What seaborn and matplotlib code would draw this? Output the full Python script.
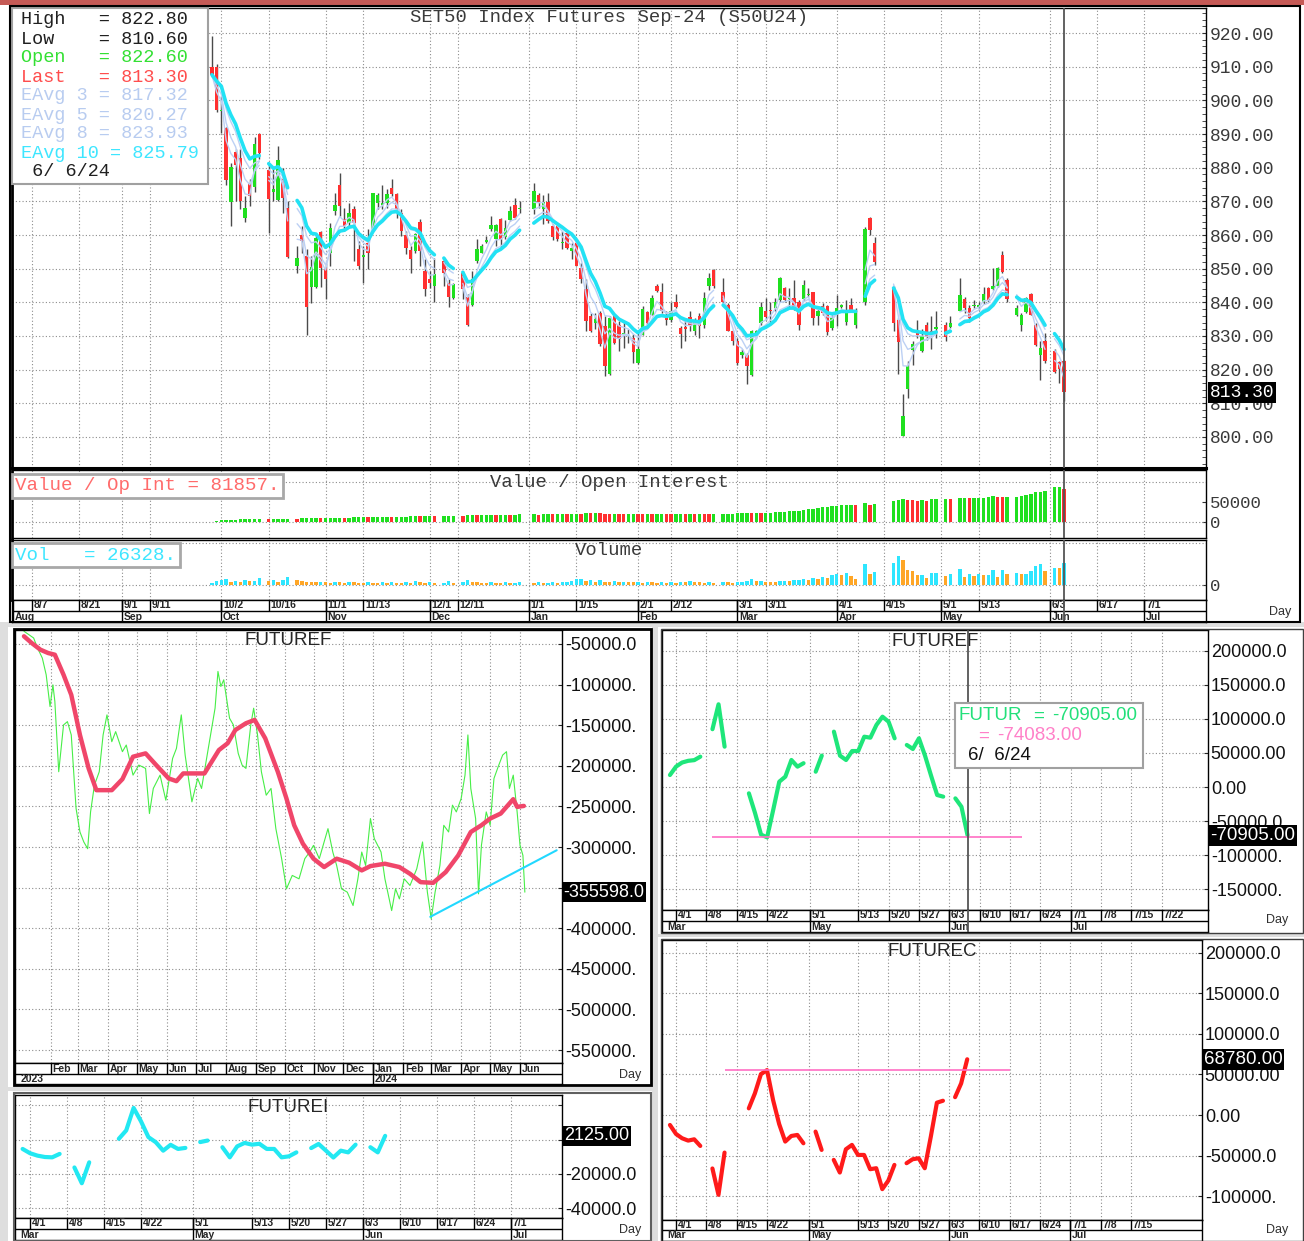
import numpy as np
import pandas as pd
import seaborn as sns
import matplotlib.pyplot as plt
import matplotlib.transforms as mtransforms
from matplotlib.patches import Rectangle
from matplotlib.ticker import MultipleLocator

# ---------------- data ----------------
holidays = ['2023-10-13', '2023-10-23', '2023-12-05', '2023-12-11', '2023-12-29',
            '2024-01-01', '2024-02-26', '2024-04-08', '2024-04-12', '2024-04-15',
            '2024-04-16', '2024-05-01', '2024-05-06', '2024-05-22', '2024-06-03']

opens = [910.0, 910.0, 896.8, 891.8, 869.8, 884.8, 883.0, 865.1, 875.5, 874.4,
         889.9, 879.2, 872.8, 870.4, 876.7, 867.9, 850.8, 859.9, 853.8, 844.7,
         844.7, 860.9, 850.3, 854.8, 867.1, 875.0, 864.9, 863.7, 867.8, 855.9,
         853.6, 857.7, 861.7, 869.6, 869.0, 869.6, 874.1, 872.1, 866.6, 859.9,
         855.4, 855.2, 863.9, 849.3, 846.8, 844.9, 852.3, 845.8, 841.4, 848.8,
         841.7, 839.1, 852.3, 854.8, 857.9, 861.7, 858.7, 864.9, 859.5, 864.5,
         868.9, 867.6, 867.6, 871.8, 867.6, 869.8, 862.7, 862.7, 857.7, 860.7,
         855.2, 857.7, 850.3, 844.1, 835.9, 834.0, 836.9, 833.0, 818.6, 835.9,
         833.2, 830.5, 830.0, 829.4, 822.0, 830.4, 837.0, 836.3, 844.9, 843.0,
         836.3, 834.8, 840.2, 832.4, 832.6, 835.5, 831.4, 835.8, 833.2, 845.0,
         849.6, 843.0, 839.1, 831.6, 828.6, 824.3, 824.5, 818.4, 830.2, 833.8,
         837.3, 837.8, 838.3, 840.7, 844.2, 841.0, 841.2, 840.0, 841.0, 842.2,
         843.0, 835.8, 838.8, 838.8, 832.4, 837.1, 838.7, 834.3, 839.3, 833.4,
         840.2, 865.1, 857.5, 844.4, 834.8, 800.3, 814.4, 825.7, 831.6, 825.5,
         833.3, 831.6, 832.2, 833.3, 832.6, 837.3, 841.0, 838.3, 838.8, 838.7,
         840.0, 844.2, 844.0, 845.0, 854.2, 846.7, 836.1, 833.2, 837.1, 842.4,
         833.3, 824.5, 828.4, 825.5, 822.3, 822.6]
highs = [919.2, 910.8, 901.3, 892.0, 881.5, 885.4, 885.4, 871.6, 876.7, 889.2,
         890.4, 881.0, 879.5, 886.4, 880.0, 870.1, 856.7, 862.7, 855.7, 853.8,
         859.7, 861.2, 851.8, 863.7, 872.4, 878.3, 868.1, 869.6, 868.6, 858.2,
         856.7, 861.7, 872.6, 872.6, 875.0, 873.6, 876.7, 872.6, 867.6, 861.2,
         856.7, 860.7, 864.7, 852.8, 849.3, 853.3, 853.3, 846.8, 845.8, 849.3,
         842.4, 849.3, 858.7, 857.4, 859.7, 865.6, 863.2, 865.1, 864.5, 868.6,
         871.1, 870.1, 875.5, 872.6, 871.8, 872.6, 863.2, 863.7, 861.2, 861.2,
         857.7, 858.7, 851.8, 846.8, 836.9, 836.9, 837.4, 835.9, 835.9, 836.4,
         834.5, 834.2, 832.0, 830.5, 830.9, 838.8, 837.5, 842.2, 845.4, 845.7,
         837.3, 840.0, 842.4, 832.9, 834.8, 837.5, 835.3, 836.8, 843.2, 848.6,
         849.9, 847.1, 839.8, 831.9, 829.4, 826.0, 825.0, 831.9, 831.9, 840.2,
         841.4, 840.2, 841.4, 847.4, 844.7, 844.2, 846.6, 840.7, 846.6, 844.2,
         843.2, 838.8, 839.8, 839.3, 836.3, 842.2, 839.5, 840.7, 841.4, 838.3,
         862.4, 865.4, 859.5, 845.0, 835.3, 812.7, 822.5, 828.4, 834.8, 832.2,
         834.3, 835.8, 837.5, 834.3, 835.8, 847.1, 841.7, 839.3, 840.7, 840.2,
         844.7, 844.7, 850.1, 850.6, 855.2, 847.1, 839.3, 836.8, 841.7, 842.7,
         833.8, 828.4, 830.9, 826.0, 822.7, 822.8]
lows = [907.0, 896.5, 890.4, 874.9, 862.7, 870.1, 867.8, 863.9, 868.6, 872.8,
        882.5, 860.7, 870.1, 870.1, 866.6, 853.3, 848.6, 854.8, 830.2, 839.9,
        844.4, 844.7, 840.9, 850.8, 865.8, 865.6, 861.2, 862.7, 852.3, 849.8,
        845.8, 849.8, 861.2, 867.6, 867.6, 868.1, 871.6, 865.1, 859.7, 854.3,
        848.8, 854.8, 850.8, 841.9, 844.4, 840.1, 844.9, 838.7, 841.1, 840.9,
        833.0, 838.9, 851.8, 854.6, 857.7, 861.2, 856.7, 856.2, 858.9, 864.2,
        864.7, 866.6, 866.1, 868.1, 863.2, 863.7, 858.5, 858.2, 855.9, 855.7,
        852.8, 850.8, 845.8, 831.5, 831.3, 832.0, 827.0, 818.1, 818.3, 827.5,
        825.5, 826.5, 828.0, 822.1, 821.8, 830.2, 833.4, 836.1, 843.0, 836.8,
        833.3, 834.3, 838.3, 826.5, 828.4, 831.4, 830.4, 829.4, 832.4, 843.7,
        844.4, 839.8, 831.4, 827.4, 821.5, 823.5, 815.6, 818.1, 829.4, 833.3,
        834.8, 833.8, 837.3, 840.2, 840.2, 838.3, 837.8, 831.9, 840.7, 841.7,
        833.3, 833.3, 836.3, 830.4, 831.9, 832.9, 838.3, 833.3, 837.3, 832.4,
        839.3, 860.0, 851.1, 831.4, 818.8, 800.3, 811.7, 821.5, 829.4, 825.3,
        828.9, 826.0, 829.4, 828.4, 832.4, 837.3, 836.8, 834.3, 838.3, 837.8,
        839.5, 840.0, 843.7, 844.7, 848.6, 840.2, 835.8, 831.4, 836.8, 836.1,
        826.9, 816.8, 822.0, 819.1, 816.1, 810.6]
closes = [907.6, 897.2, 897.2, 876.4, 880.3, 880.7, 870.1, 868.1, 871.6, 886.9,
          884.3, 870.6, 873.6, 882.3, 871.1, 853.5, 853.3, 858.2, 838.6, 850.6,
          859.2, 850.3, 846.8, 862.2, 868.9, 868.6, 862.7, 866.4, 863.7, 850.8,
          854.0, 854.8, 872.4, 871.9, 869.4, 872.3, 872.1, 867.6, 861.2, 856.2,
          853.0, 860.2, 855.2, 843.9, 845.8, 848.3, 848.8, 841.7, 845.5, 843.9,
          833.2, 847.0, 855.7, 856.7, 858.4, 862.9, 862.9, 858.9, 862.2, 867.2,
          865.1, 868.1, 873.1, 869.4, 869.8, 864.2, 859.5, 858.9, 858.0, 856.2,
          856.2, 850.8, 846.8, 834.5, 831.5, 835.0, 827.5, 821.1, 835.4, 828.0,
          829.0, 831.0, 830.4, 825.3, 826.0, 838.0, 833.8, 841.2, 843.4, 837.3,
          834.8, 837.5, 838.5, 830.6, 832.2, 832.9, 834.1, 832.9, 841.4, 847.1,
          845.0, 840.2, 831.6, 828.4, 822.0, 825.3, 821.0, 831.4, 831.4, 838.6,
          835.5, 837.3, 840.0, 847.1, 840.7, 841.4, 838.3, 833.2, 845.2, 842.4,
          835.3, 837.3, 836.8, 831.2, 835.3, 838.3, 839.1, 837.1, 837.8, 837.1,
          861.9, 861.4, 852.1, 833.8, 828.2, 806.3, 821.0, 827.6, 830.2, 829.9,
          829.6, 830.9, 832.8, 829.6, 833.8, 842.2, 838.3, 835.3, 839.3, 839.1,
          842.4, 840.7, 845.0, 850.1, 848.9, 841.0, 838.3, 836.3, 841.4, 836.3,
          827.4, 826.3, 822.5, 819.4, 820.3, 813.3]

open_int = [1500, 3000,
            4500, 5000, 6000, 6500, 7000, 7000, 7500, 7500, 8000, 7500,
            8500, 9000, 9000, 9000, 8500, 9500, 10000, 10000, 10500, 10000,
            10500, 11000, 11000, 11500, 11000, 11500, 12000, 12000, 12500, 12000, 12500,
            13000, 13000, 13500, 13000, 13500, 14000, 14000, 14500, 15000, 14500, 15000,
            15500, 15000, 15500, 16000, 16500, 16000, 17000, 17500, 17000,
            18000, 18000, 18500, 18000, 19000, 19000, 18500, 19000, 19500,
            19500, 19000, 19500, 20000, 19500, 20000, 20500, 20000, 21000, 21500, 21000,
            22500, 22000, 22500, 22000, 21500, 21000, 21500, 21000, 20500, 21000, 21500,
            21000, 20500, 21000, 20000, 20500, 21000, 20500, 20000, 20500, 21000,
            20000, 20500, 20000, 21000, 20500, 20000, 20500, 21000, 21000, 21500,
            22000, 23000, 23500, 23000, 23500, 23000, 23500, 24000, 24500, 25500, 26500,
            27500, 28000, 29000, 30500, 32000, 34000, 35500, 37000, 38500, 40000,
            41500, 43000, 43500, 43500, 42500, 49000, 44000, 46000, 52000,
            56500, 58000, 56000, 55000, 54000, 54500, 54000, 58000, 58000,
            59000, 57500, 61000, 61500, 60000, 60000, 60500, 61000, 63000, 65000,
            63000, 62000, 64000, 64000, 65500, 67000, 70500, 74000, 76000, 77000,
            86500, 88500, 81857]

volume = [2000, 4500,
          5500, 6500, 4000, 5000, 3500, 6000, 4500, 5000, 8000, 4500,
          5500, 4000, 6000, 9000, 5500, 4500, 4000, 3500, 3000, 4000,
          3000, 2500, 3500, 3000, 2500, 4000, 3000, 2500, 2000, 3000, 2500,
          2000, 3500, 2500, 3000, 2500, 2000, 3000, 2500, 4500, 3000, 2500,
          3000, 2000, 2500, 4500, 2500, 3000, 6000, 3500, 3000,
          2500, 2000, 3000, 2500, 2000, 3000, 2000, 2500, 3000,
          2500, 3000, 2000, 2500, 3000, 2500, 3500, 4000, 5000, 6500, 7500,
          5000, 6000, 4000, 5500, 4000, 3500, 4500, 3000, 4000, 3500, 3000,
          3000, 2500, 3500, 3000, 2500, 3000, 2500, 3000, 2500, 3500,
          3000, 4500, 3500, 3000, 2500, 3000, 2500, 3500, 3000, 2500,
          3000, 4000, 4500, 6500, 4500, 5000, 4000, 3500, 3000, 4500, 5000,
          4500, 5500, 6000, 7000, 6000, 8000, 7000, 9500, 8500, 11500,
          12500, 11500, 14000, 10500, 7500, 25000, 13500, 15500, 26000,
          34000, 30000, 17500, 16500, 12000, 12000, 8000, 14000, 14500,
          11000, 12500, 19000, 9500, 12500, 11000, 12500, 11500, 11500, 18000,
          9500, 17500, 12500, 14500, 13000, 13000, 16000, 22000, 25000, 16000,
          20500, 19500, 26328]

# FUTUREF history, x = days since 2023-01-01
ff_day = [3, 13, 17, 22, 26, 30, 33, 35, 39, 44, 48, 52, 57, 61, 65, 69, 72, 76, 81, 85,
          89, 94, 98, 105, 109, 116, 122, 129, 133, 137, 144, 150, 157, 161, 166, 170,
          177, 183, 187, 194, 201, 204, 207, 210, 216, 220, 225, 229, 233, 238, 241, 245,
          249, 254, 259, 264, 270, 275, 281, 288, 294, 299, 303, 309, 314, 318, 323, 327,
          332, 338, 344, 349, 353, 357, 362, 366, 373, 377, 384, 388, 392, 397, 403, 410,
          416, 421, 425, 429, 434, 438, 443, 447, 451, 456, 460, 463, 466, 471, 474, 477,
          482, 486, 490, 495, 499, 503, 506, 510, 514, 517, 520, 522]
ff_val = [-34300, -42600, -54900, -67300, -87900, -127000, -100300, -120800, -207300, -149700,
          -145600, -162000, -252700, -281500, -293800, -302100, -256800, -223800, -207300, -162000,
          -137300, -170300, -157900, -182600, -174400, -211500, -199100, -203200, -258800, -227900,
          -211500, -242400, -190900, -178500, -137300, -186800, -244400, -215600, -227900, -178500,
          -129100, -83800, -102300, -94100, -141400, -149700, -184700, -199100, -203200, -149700,
          -129100, -162000, -207300, -236200, -227900, -277400, -314400, -351500, -335000, -339200,
          -314400, -306200, -298000, -314400, -293800, -277400, -306200, -322700, -351500, -355600,
          -372100, -339200, -306200, -322700, -265000, -289700, -306200, -339200, -378300, -351500,
          -363900, -339200, -347400, -326800, -293800, -355600, -388600, -355600, -322700, -273300,
          -281500, -248500, -256800, -240300, -211500, -162000, -227900, -265000, -357700, -298000,
          -256800, -273300, -215600, -199100, -186800, -182600, -227900, -211500, -256800, -298000,
          -310300, -355598]
ffa_day = [3, 11, 20, 28, 35, 44, 52, 61, 70, 78, 94, 105, 116, 129, 140, 153, 161, 168, 190, 205,
           214, 222, 233, 242, 253, 266, 275, 283, 292, 303, 314, 327, 340, 353, 362, 377, 392, 403,
           414, 427, 440, 453, 466, 477, 486, 497, 506, 510, 514, 521]
ffa_val = [-40500, -48800, -57000, -61100, -63200, -87900, -112600, -162000, -203200, -230000,
           -230000, -216400, -188800, -184700, -199100, -215600, -218900, -209400, -209400, -180600,
           -172300, -155900, -147600, -143500, -166200, -207300, -240300, -273200, -295900, -314400,
           -324700, -314400, -319400, -328800, -323500, -320600, -324700, -333000, -343300, -344100,
           -330900, -310300, -281500, -273200, -265000, -258800, -246500, -241100, -250600, -249400]
ff_trend_day = [424, 555]
ff_trend_val = [-386000, -304000]

# short windows: one value per trading day from 2024-03-29 to 2024-06-06
futuref = [17600, 30000, 36000, 38500, 39500, 44600,
           85000, 121600, 59300,
           -9300, -38000, -70000, -74083, -33800, 7800, 15200, 39700, 29900, 35000,
           22500, 46100,
           81400, 46100, 39700, 52900, 52900, 74000, 72500, 91200, 103400, 96000, 71600,
           61800, 55900, 71600, 46100, 16600, -11800, -14200,
           -16700, -29000, -70905]
futurec = [-12300, -23400, -28700, -31600, -30000, -38200,
           -66000, -98500, -46400,
           8200, 26700, 50500, 55400, 18500, -11100, -32800, -25900, -24600, -34900,
           -20500, -43100,
           -55400, -71000, -42300, -36900, -49300, -49300, -66900, -65700, -91500, -80900, -61600,
           -59500, -54600, -53400, -65700, -26700, 15200, 17600,
           22000, 39000, 68780]
futurei = [-5500, -8000, -9400, -10200, -10400, -8400,
           -16300, -25500, -13300,
           400, 5300, 18400, 10600, 1400, -1600, -6500, -3100, -5500, -4900,
           -1500, -600,
           -4500, -10400, -4000, -2000, -3000, -2500, -5500, -5500, -10400, -9800, -7500,
           -5000, -2600, -6500, -10500, -6500, -7500, -3000,
           -4500, -7500, 2125]
futuref_floor = -74083
futurec_ceiling = 55400

# ---------------- style ----------------
sns.set_style('white')
plt.rcParams['font.family'] = ['Liberation Sans', 'DejaVu Sans']
MONO = 'Liberation Mono'
INK = '#3a3a3a'
GREEN, RED = '#1fe01f', '#ff3030'
GRID = dict(color='#8c8c8c', linewidth=0.8, linestyle=(0, (1, 2)))

W, H = 1304, 1241
fig = plt.figure(figsize=(W / 100, H / 100), dpi=100, facecolor='#dedede')


def axes_px(x0, y0, x1, y1):
    ax = fig.add_axes([x0 / W, 1 - y1 / H, (x1 - x0) / W, (y1 - y0) / H])
    ax.set_facecolor('white')
    for s in ax.spines.values():
        s.set_color('black')
        s.set_linewidth(1)
    return ax


def rect_px(x0, y0, x1, y1, z=-5, **kw):
    fig.patches.append(Rectangle((x0 / W, 1 - y1 / H), (x1 - x0) / W, (y1 - y0) / H,
                                 transform=fig.transFigure, zorder=z, **kw))


def text_px(x, y, s, **kw):
    kw.setdefault('va', 'center')
    fig.text(x / W, 1 - y / H, s, zorder=9, **kw)


def value_box(ax, y, s, size=13, family=None):
    tr = mtransforms.blended_transform_factory(ax.transAxes, ax.transData)
    ax.text(1.003, y, s, transform=tr, ha='left', va='center', color='white',
            fontsize=size, family=family, zorder=10, clip_on=False,
            bbox=dict(boxstyle='square,pad=0.1', fc='black', ec='none'))


def date_axis(box, xlim, ticks, labels, seps, sep_labels, height, split, extra=None):
    ax = axes_px(*box)
    ax.set_xlim(xlim)
    ax.set_ylim(height, 0)
    ax.set_xticks([])
    ax.set_yticks([])
    ax.axhline(split, color='black', lw=1)
    ax.vlines(ticks, 0, split, color='black', lw=1)
    for x, s in zip(ticks, labels):
        ax.annotate(s, (x, split / 2), xytext=(1.2, 0), textcoords='offset points',
                    ha='left', va='center', fontsize=7.5, fontweight='bold')
    ax.vlines(seps, 0, height, color='black', lw=1)
    for x, s in zip(seps, sep_labels):
        ax.annotate(s, (x, (split + height) / 2), xytext=(1.2, 0), textcoords='offset points',
                    ha='left', va='center', fontsize=7.5, fontweight='bold')
    if extra:
        ax.annotate(extra, (xlim[0], (split + height) / 2), xytext=(4, 0),
                    textcoords='offset points', ha='left', va='center',
                    fontsize=7.5, fontweight='bold')
    return ax


def md(ts):
    return [f'{t.month}/{t.day}' for t in pd.to_datetime(ts)]


# ---------------- trading calendar ----------------
trade_days = pd.bdate_range('2023-09-28', '2024-06-06')
trade_days = trade_days[~trade_days.isin(pd.to_datetime(holidays))]
d64 = trade_days.values.astype('datetime64[D]')
k_main = np.busday_count(np.datetime64('2023-08-07'), d64)
seg_main = np.concatenate([[0], np.cumsum(np.diff(k_main) > 1)])


def kmain(ds):
    return np.busday_count(np.datetime64('2023-08-07'), pd.to_datetime(ds).values.astype('datetime64[D]'))


short_days = trade_days[trade_days >= '2024-03-29']
k_short = np.busday_count(np.datetime64('2024-04-01'), short_days.values.astype('datetime64[D]'))
seg_short = np.concatenate([[0], np.cumsum(np.diff(k_short) > 1)])


def kshort(ds):
    return np.busday_count(np.datetime64('2024-04-01'), pd.to_datetime(ds).values.astype('datetime64[D]'))


def dnum(ds):
    return [(pd.Timestamp(d) - pd.Timestamp('2023-01-01')).days for d in ds]


# ---------------- window backgrounds ----------------
rect_px(0, 0, 1304, 5, fc='#c55a56', ec='none')
rect_px(0, 5, 1304, 622, fc='white', ec='none')
rect_px(8, 627, 652, 1087, fc='white', ec='none')
rect_px(8, 1091, 652, 1241, fc='white', ec='none')
rect_px(658, 627, 1304, 934, fc='white', ec='none')
rect_px(658, 937, 1304, 1241, fc='white', ec='none')

# ---------------- main candlestick panel ----------------
XL = (-4.23, 248.0)
o, h, l, c = map(np.array, (opens, highs, lows, closes))
price = pd.DataFrame({'k': k_main, 'seg': seg_main, 'close': c})
for n in (3, 5, 8, 10):
    price[f'ema{n}'] = price['close'].ewm(span=n, adjust=False).mean()

ax = axes_px(12, 8, 1206, 468)
ax.set_xlim(XL)
ax.set_ylim(790.79, 927.43)
ax.vlines(k_main, l, h, color='#4a4a4a', lw=1, zorder=2)
ax.bar(k_main, np.maximum(np.abs(c - o), 0.35), bottom=np.minimum(o, c), width=0.72,
       color=np.where(c >= o, GREEN, RED), lw=0, zorder=3)
for n in (3, 5, 8):
    sns.lineplot(data=price, x='k', y=f'ema{n}', units='seg', estimator=None,
                 color='#bcd0f4', lw=1, ax=ax, legend=False, zorder=4)
sns.lineplot(data=price, x='k', y='ema10', units='seg', estimator=None,
             color='#22e2f4', lw=2.6, ax=ax, legend=False, zorder=5)
ax.set_xlabel('')
ax.set_ylabel('')

day_ticks = ['2023-08-07', '2023-08-21', '2023-09-01', '2023-09-11', '2023-10-02', '2023-10-16',
             '2023-11-01', '2023-11-13', '2023-12-01', '2023-12-11', '2024-01-01', '2024-01-15',
             '2024-02-01', '2024-02-12', '2024-03-01', '2024-03-11', '2024-04-01', '2024-04-15',
             '2024-05-01', '2024-05-13', '2024-06-03', '2024-06-17', '2024-07-01']
month_starts = ['2023-08-01', '2023-09-01', '2023-10-02', '2023-11-01', '2023-12-01', '2024-01-01',
                '2024-02-01', '2024-03-01', '2024-04-01', '2024-05-01', '2024-06-03', '2024-07-01']
month_names = ['Aug', 'Sep', 'Oct', 'Nov', 'Dec', 'Jan', 'Feb', 'Mar', 'Apr', 'May', 'Jun', 'Jul']


def style_top(a, yt, ylab, size=13):
    a.set_xticks(kmain(day_ticks))
    a.tick_params(axis='x', length=0, labelbottom=False)
    a.grid(True, axis='x', **GRID)
    a.yaxis.tick_right()
    a.set_yticks(yt)
    a.set_yticklabels(ylab, family=MONO, fontsize=size, color=INK)
    a.tick_params(axis='y', which='both', direction='in', length=3, pad=3, color='#333333')


style_top(ax, np.arange(800, 921, 10), [f'{v:.2f}' for v in range(800, 921, 10)])
ax.yaxis.set_minor_locator(MultipleLocator(2))
ax.grid(True, axis='y', **GRID)
ax.spines['left'].set_linewidth(2)
ax.spines['bottom'].set_linewidth(2.2)
ax.axvline(k_main[-1], color='#555555', lw=1.3, zorder=6)
ax.text(0.5, 0.98, 'SET50 Index Futures Sep-24 (S50U24)', transform=ax.transAxes,
        ha='center', va='center', family=MONO, fontsize=13.6, color=INK)
value_box(ax, c[-1], f'{c[-1]:.2f}', size=13, family=MONO)

# info box
rect_px(12, 8, 208, 184, z=7, fc='white', ec='#a0a0a0', lw=1.5)
info = [('High   = 822.80', '#202020'), ('Low    = 810.60', '#202020'),
        ('Open   = 822.60', '#33e033'), ('Last   = 813.30', '#ff4d4d'),
        ('EAvg 3 = 817.32', '#b8ccf0'), ('EAvg 5 = 820.27', '#b8ccf0'),
        ('EAvg 8 = 823.93', '#b8ccf0'), ('EAvg 10 = 825.79', '#3ee6ff'),
        (' 6/ 6/24', '#202020')]
for i, (s, col) in enumerate(info):
    text_px(21, 20 + 19 * i, s, family=MONO, fontsize=13.3, color=col)

# ---------------- value / open interest ----------------
oi = np.array(open_int)
ax2 = axes_px(12, 470, 1206, 538)
ax2.set_xlim(XL)
ax2.set_ylim(-39250, 130000)
ax2.bar(k_main, oi, width=0.72, lw=0, zorder=3,
        color=np.where(np.diff(oi, prepend=0) >= 0, GREEN, RED))
style_top(ax2, [0, 50000], ['0', '50000'], size=12.5)
ax2.axhline(0, zorder=1, **GRID)
ax2.axhline(100000, zorder=1, **GRID)
ax2.axvline(k_main[-1], color='#555555', lw=1.3, zorder=6)
ax2.spines['left'].set_linewidth(2)
ax2.text(0.5, 0.82, 'Value / Open Interest', transform=ax2.transAxes, ha='center',
         va='center', family=MONO, fontsize=13.6, color=INK)
rect_px(12, 474, 283, 498, z=7, fc='white', ec='#a8a8a8', lw=2)
text_px(15, 486, 'Value / Op Int = 81857.', family=MONO, fontsize=13.8, color='#ff6b6b')

# ---------------- volume ----------------
vol = np.array(volume)
ax3 = axes_px(12, 540, 1206, 600)
ax3.set_xlim(XL)
ax3.set_ylim(-17700, 53070)
ax3.bar(k_main, vol, width=0.72, lw=0, zorder=3,
        color=np.where(np.diff(vol, prepend=0) >= 0, '#2ee6ff', '#ffa626'))
style_top(ax3, [0], ['0'], size=12.5)
ax3.axhline(0, zorder=1, **GRID)
ax3.axhline(50000, zorder=1, **GRID)
ax3.axvline(k_main[-1], color='#555555', lw=1.3, zorder=6)
ax3.spines['left'].set_linewidth(2)
ax3.text(0.5, 0.82, 'Volume', transform=ax3.transAxes, ha='center', va='center',
         family=MONO, fontsize=13.6, color=INK)
rect_px(12, 543, 180, 567, z=7, fc='white', ec='#a8a8a8', lw=2)
text_px(15, 555, 'Vol   = 26328.', family=MONO, fontsize=13.8, color='#3ee6ff')

axd = date_axis((12, 600, 1206, 622), XL, kmain(day_ticks), md(day_ticks),
                kmain(month_starts), month_names, 22, 11)
axd.axvline(k_main[-1], color='#555555', lw=1.3, zorder=6)
text_px(1280, 612, 'Day', fontsize=9, color='#303030', ha='center')
rect_px(10, 6, 1300, 622, z=8, fc='none', ec='black', lw=1.5)


def short_style(a, xl, ticks, yt, ylab, ylim):
    a.set_xlim(xl)
    a.set_ylim(ylim)
    a.set_xlabel('')
    a.set_ylabel('')
    a.set_xticks(kshort(ticks))
    a.tick_params(axis='x', length=0, labelbottom=False)
    a.yaxis.tick_right()
    a.set_yticks(yt)
    a.set_yticklabels(ylab, fontsize=13, color='#111111')
    a.tick_params(axis='y', direction='in', length=3, pad=2)
    a.grid(True, **GRID)


# ---------------- FUTUREF (long history) ----------------
axf = axes_px(15, 630, 562, 1063)
sns.lineplot(x=ff_day, y=ff_val, color='#47ee47', lw=0.8, ax=axf)
sns.lineplot(x=ffa_day, y=ffa_val, color='#f0466a', lw=3.2, ax=axf)
sns.lineplot(x=ff_trend_day, y=ff_trend_val, color='#22d8ff', lw=1.5, ax=axf)
XLF = (-6.3, 560.5)
axf.set_xlim(XLF)
axf.set_ylim(-566000, -32760)
lf_months = pd.date_range('2023-02-01', '2024-06-01', freq='MS')
axf.set_xticks(dnum(lf_months))
axf.tick_params(axis='x', length=0, labelbottom=False)
axf.yaxis.tick_right()
yv = list(range(-50000, -550001, -50000))
axf.set_yticks(yv)
# the -350000 label sits under the last-value box in the original, so it stays blank
axf.set_yticklabels(['-50000.0'] + ['' if v == -350000 else f'{v}.' for v in yv[1:]],
                    fontsize=13, color='#111111')
axf.tick_params(axis='y', direction='in', length=3, pad=2)
axf.grid(True, **GRID)
axf.text(0.5, 0.975, 'FUTUREF', transform=axf.transAxes, ha='center', va='center', fontsize=13.5)
value_box(axf, ff_val[-1], f'{ff_val[-1]:.1f}', size=13)
date_axis((15, 1063, 562, 1084), XLF, dnum(lf_months), [d.strftime('%b') for d in lf_months],
          dnum(['2024-01-01']), ['2024'], 21, 11, extra='2023')
text_px(630, 1075, 'Day', fontsize=9, color='#303030', ha='center')
rect_px(14, 629, 651, 1085, z=8, fc='none', ec='black', lw=2)

# ---------------- short windows ----------------
short = pd.DataFrame({'k': k_short, 'seg': seg_short, 'ff': futuref, 'fc': futurec, 'fi': futurei})
r_ticks = ['2024-04-01', '2024-04-08', '2024-04-15', '2024-04-22', '2024-05-01', '2024-05-13',
           '2024-05-20', '2024-05-27', '2024-06-03', '2024-06-10', '2024-06-17', '2024-06-24',
           '2024-07-01', '2024-07-08', '2024-07-15', '2024-07-22']
r_months = ['2024-05-01', '2024-06-03', '2024-07-01']

# FUTUREI
axi = axes_px(15, 1095, 562, 1218)
sns.lineplot(data=short, x='k', y='fi', units='seg', estimator=None, color='#22e8f2', lw=3, ax=axi)
XLI = (-2.03, 71.9)
short_style(axi, XLI, r_ticks[:13], [20000, 0, -20000, -40000], ['', '0.00', '-20000.0', '-40000.0'],
            (-45770, 25950))
axi.text(0.5, 0.9, 'FUTUREI', transform=axi.transAxes, ha='center', va='center', fontsize=13.5)
value_box(axi, futurei[-1], f'{futurei[-1]:.2f}', size=13)
date_axis((15, 1218, 562, 1240), XLI, kshort(r_ticks[:13]), md(r_ticks[:13]),
          kshort(r_months), ['May', 'Jun', 'Jul'], 22, 11, extra='Mar')
text_px(630, 1230, 'Day', fontsize=9, color='#303030', ha='center')
rect_px(14, 1093, 651, 1241, z=8, fc='none', ec='#606060', lw=1.5)

# FUTUREF (recent)
axr = axes_px(662, 630, 1208, 910)
sns.lineplot(data=short, x='k', y='ff', units='seg', estimator=None, color='#1ee67a', lw=3, ax=axr)
axr.hlines(futuref_floor, kshort(['2024-04-09'])[0], kshort(['2024-06-19'])[0], color='#ff6ec4', lw=1.2)
XLR = (-2.31, 87.6)
short_style(axr, XLR, r_ticks, [200000, 150000, 100000, 50000, 0, -50000, -100000, -150000],
            ['200000.0', '150000.0', '100000.0', '50000.00', '0.00', '-50000.0', '-100000.', '-150000.'],
            (-180880, 230880))
axr.axvline(k_short[-1], color='#555555', lw=1.3, zorder=6)
axr.text(0.5, 0.96, 'FUTUREF', transform=axr.transAxes, ha='center', va='center', fontsize=13.5)
value_box(axr, futuref[-1], f'{futuref[-1]:.2f}', size=13.5)
axrd = date_axis((662, 910, 1208, 932), XLR, kshort(r_ticks), md(r_ticks),
                 kshort(r_months), ['May', 'Jun', 'Jul'], 22, 11, extra='Mar')
axrd.axvline(k_short[-1], color='#555555', lw=1.3, zorder=6)
text_px(1277, 920, 'Day', fontsize=9, color='#303030', ha='center')
rect_px(955, 703, 1143, 768, z=7, fc='white', ec='#a0a0a0', lw=1.5)
text_px(958, 716, 'FUTUR', fontsize=13.5, color='#22e07a')
text_px(1033, 716, '=', fontsize=13.5, color='#22e07a')
text_px(1052, 716, f'{futuref[-1]:.2f}', fontsize=13.5, color='#22e07a')
text_px(978, 736, '=', fontsize=13.5, color='#ff80c8')
text_px(997, 736, f'{futuref_floor:.2f}', fontsize=13.5, color='#ff80c8')
text_px(968, 756, '6/  6/24', fontsize=13.5, color='#111111')
rect_px(661, 629, 1303, 933, z=8, fc='none', ec='#404040', lw=1)

# FUTUREC
axc = axes_px(662, 940, 1202, 1220)
sns.lineplot(data=short, x='k', y='fc', units='seg', estimator=None, color='#ff1a1a', lw=3, ax=axc)
axc.hlines(futurec_ceiling, kshort(['2024-04-11'])[0], kshort(['2024-06-17'])[0], color='#ff6ec4', lw=1.2)
XLC = (-2.31, 86.7)
short_style(axc, XLC, r_ticks[:15], [200000, 150000, 100000, 50000, 0, -50000, -100000],
            ['200000.0', '150000.0', '100000.0', '50000.00', '0.00', '-50000.0', '-100000.'],
            (-129600, 216000))
axc.text(0.5, 0.96, 'FUTUREC', transform=axc.transAxes, ha='center', va='center', fontsize=13.5)
value_box(axc, futurec[-1], f'{futurec[-1]:.2f}', size=13.5)
date_axis((662, 1220, 1202, 1241), XLC, kshort(r_ticks[:15]), md(r_ticks[:15]),
          kshort(r_months), ['May', 'Jun', 'Jul'], 21, 10, extra='Mar')
text_px(1277, 1230, 'Day', fontsize=9, color='#303030', ha='center')
rect_px(661, 939, 1303, 1241, z=8, fc='none', ec='#404040', lw=1)

fig.savefig('out.png', dpi=100, facecolor=fig.get_facecolor())
